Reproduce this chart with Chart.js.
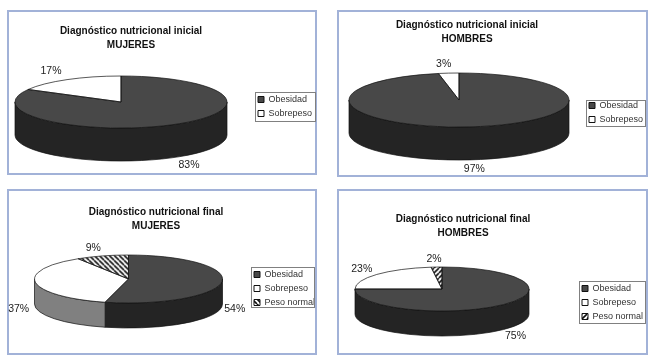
<!DOCTYPE html>
<html>
<head>
<meta charset="utf-8">
<script src="https://cdn.jsdelivr.net/npm/chart.js@4"></script>
<style>
  html, body { margin: 0; padding: 0; background: #fff; }
  body { width: 650px; height: 360px; position: relative; overflow: hidden; }
  .panel { position: absolute; box-sizing: border-box; border: 2px solid #a2b2d8; background: #fff; }
  canvas { position: absolute; left: -2px; top: -2px; filter: blur(0.5px); }
</style>
</head>
<body>
<script>
const categories = ["Obesidad", "Sobrepeso", "Peso normal"];
const mujeresInicial = [83, 17];
const hombresInicial = [97, 3];
const mujeresFinal = [54, 37, 9];
const hombresFinal = [75, 23, 2];

const topColors = ["#484848", "#ffffff"];
const sideColors = ["#242424", "#808080", "#808080"];
const FONT = "'Liberation Sans', Arial, sans-serif";

// all positions are page pixels
const panels = [
  {
    id: "a", title: ["Diagnóstico nutricional inicial", "MUJERES"], values: mujeresInicial,
    frame: [7, 10, 310, 165], titleX: 131, titleY: 24,
    pie: { cx: 121, cy: 102, rx: 106, ry: 26, depth: 33 },
    legend: [255, 92, 60, 29], legendTop: -2, labelShift: [[14, 8], [-16, -9]], hatch: "back",
  },
  {
    id: "b", title: ["Diagnóstico nutricional inicial", "HOMBRES"], values: hombresInicial,
    frame: [337, 10, 311, 167], titleX: 467, titleY: 18,
    pie: { cx: 459, cy: 100, rx: 110, ry: 27, depth: 33 },
    legend: [586, 100, 59, 26], legendTop: -4, labelShift: [[5, 9], [-5, -9]], hatch: "back",
  },
  {
    id: "c", title: ["Diagnóstico nutricional final", "MUJERES"], values: mujeresFinal,
    frame: [7, 189, 310, 166], titleX: 156, titleY: 205,
    pie: { cx: 128.5, cy: 279, rx: 94, ry: 24, depth: 25 },
    legend: [251, 267, 63, 40], legendTop: -2, labelShift: [[13, 2], [-17, 1], [-9, -8]], hatch: "back",
  },
  {
    id: "d", title: ["Diagnóstico nutricional final", "HOMBRES"], values: hombresFinal,
    frame: [337, 189, 311, 166], titleX: 463, titleY: 212,
    pie: { cx: 442, cy: 289, rx: 87, ry: 22, depth: 25 },
    legend: [579, 281, 66, 42], legendTop: -2, labelShift: [[12, 7], [-15, -5.5], [-2.5, -8]], hatch: "fwd",
  },
];

// diagonal hatching for the "Peso normal" slice
const makeHatch = (dir) => {
  const c = document.createElement("canvas");
  c.width = 5;
  c.height = 5;
  const g = c.getContext("2d");
  g.fillStyle = "#fff";
  g.fillRect(0, 0, 5, 5);
  g.strokeStyle = "#111";
  g.lineWidth = 1.6;
  g.beginPath();
  for (let i = -5; i <= 10; i += 5) {
    if (dir === "back") {
      g.moveTo(i, 0);
      g.lineTo(i + 5, 5);
    } else {
      g.moveTo(i, 5);
      g.lineTo(i + 5, 0);
    }
  }
  g.stroke();
  return g.createPattern(c, "repeat");
};

const pie3d = {
  id: "pie3d",
  afterLayout(chart) {
    const p = chart.options.plugins.pie3d.panel;
    const ox = p.frame[0], oy = p.frame[1];
    const title = chart.titleBlock;
    title.left = p.titleX - ox - 150;
    title.right = p.titleX - ox + 150;
    title.top = p.titleY - oy;
    title.bottom = title.top + 30;
    title.width = 300;
    const lg = chart.legend;
    lg.left = p.legend[0] - ox - 2;
    lg.right = p.legend[0] - ox + p.legend[2] + 8;
    lg.top = p.legend[1] - oy + p.legendTop;
    lg.bottom = p.legend[1] - oy + p.legend[3] + 10;
  },
  beforeDatasetsDraw(chart) {
    const p = chart.options.plugins.pie3d.panel;
    const ctx = chart.ctx;
    const cx = p.pie.cx - p.frame[0], cy = p.pie.cy - p.frame[1];
    const { rx, ry, depth } = p.pie;
    const arcs = chart.getDatasetMeta(0).data;
    const r = arcs[0].outerRadius;

    // thin grey box round the legend
    ctx.save();
    ctx.strokeStyle = "#808080";
    ctx.lineWidth = 1;
    ctx.strokeRect(p.legend[0] - p.frame[0] + 0.5, p.legend[1] - p.frame[1] + 0.5, p.legend[2], p.legend[3]);
    ctx.restore();

    // side wall, only the part of each slice facing the viewer
    ctx.save();
    ctx.strokeStyle = "#111";
    ctx.lineWidth = 0.7;
    arcs.forEach((arc, i) => {
      [[0, Math.PI], [2 * Math.PI, 3 * Math.PI]].forEach(([lo, hi]) => {
        const a = Math.max(arc.startAngle, lo);
        const b = Math.min(arc.endAngle, hi);
        if (b <= a) return;
        ctx.beginPath();
        ctx.ellipse(cx, cy, rx, ry, 0, a, b);
        ctx.ellipse(cx, cy + depth, rx, ry, 0, b, a, true);
        ctx.closePath();
        ctx.fillStyle = sideColors[i];
        ctx.fill();
        ctx.stroke();
      });
    });
    ctx.restore();

    // the library's own arcs, squashed into the top face
    const sx = rx / r, sy = ry / r;
    const hatch = chart.options.plugins.pie3d.hatchSlice;
    hatch.setTransform(new DOMMatrix().scale(1 / sx, 1 / sy));
    ctx.save();
    ctx.translate(cx, cy);
    ctx.scale(sx, sy);
    ctx.translate(-arcs[0].x, -arcs[0].y);
  },
  afterDatasetsDraw(chart) {
    const ctx = chart.ctx;
    ctx.restore();
    const p = chart.options.plugins.pie3d.panel;
    const cx = p.pie.cx - p.frame[0], cy = p.pie.cy - p.frame[1];
    const { rx, ry, depth } = p.pie;
    const arcs = chart.getDatasetMeta(0).data;

    ctx.save();
    ctx.strokeStyle = "#111";
    ctx.lineWidth = 0.7;
    arcs.forEach((arc) => {
      ctx.beginPath();
      ctx.moveTo(cx, cy);
      ctx.ellipse(cx, cy, rx, ry, 0, arc.startAngle, arc.endAngle);
      ctx.closePath();
      ctx.stroke();
    });

    // percentage labels
    ctx.fillStyle = "#222";
    ctx.font = "10.5px " + FONT;
    ctx.textAlign = "center";
    ctx.textBaseline = "middle";
    arcs.forEach((arc, i) => {
      const mid = (arc.startAngle + arc.endAngle) / 2;
      const front = Math.sin(mid) > 0;
      const x = cx + Math.cos(mid) * rx + p.labelShift[i][0];
      const y = cy + Math.sin(mid) * ry + (front ? depth : 0) + p.labelShift[i][1];
      ctx.fillText(p.values[i] + "%", x, y);
    });
    ctx.restore();
  },
};

panels.forEach((p) => {
  const div = document.createElement("div");
  div.className = "panel";
  div.style.left = p.frame[0] + "px";
  div.style.top = p.frame[1] + "px";
  div.style.width = p.frame[2] + "px";
  div.style.height = p.frame[3] + "px";
  const canvas = document.createElement("canvas");
  canvas.id = p.id;
  canvas.width = p.frame[2];
  canvas.height = p.frame[3];
  div.appendChild(canvas);
  document.body.appendChild(div);

  const hatchSlice = makeHatch(p.hatch);
  const hatchKey = makeHatch(p.hatch);
  const labels = categories.slice(0, p.values.length);

  new Chart(canvas.getContext("2d"), {
    type: "pie",
    data: {
      labels: labels,
      datasets: [
        {
          data: p.values,
          backgroundColor: [topColors[0], topColors[1], hatchSlice],
          borderWidth: 0,
          clip: false,
        },
      ],
    },
    options: {
      responsive: false,
      animation: false,
      plugins: {
        pie3d: { panel: p, hatchSlice: hatchSlice },
        tooltip: { enabled: false },
        title: {
          display: true,
          text: p.title,
          color: "#111",
          padding: 0,
          font: { family: FONT, size: 10, weight: "bold", lineHeight: 1.4 },
        },
        legend: {
          position: "right",
          align: "start",
          labels: {
            boxWidth: 6,
            boxHeight: 6,
            padding: 5,
            color: "#333",
            font: { family: FONT, size: 9 },
            generateLabels: (chart) =>
              Chart.overrides.pie.plugins.legend.labels.generateLabels(chart).map((item, i) => {
                item.fillStyle = i === 2 ? hatchKey : topColors[i];
                item.strokeStyle = "#111";
                item.lineWidth = 1;
                return item;
              }),
          },
        },
      },
    },
    plugins: [pie3d],
  });
});
</script>
</body>
</html>
